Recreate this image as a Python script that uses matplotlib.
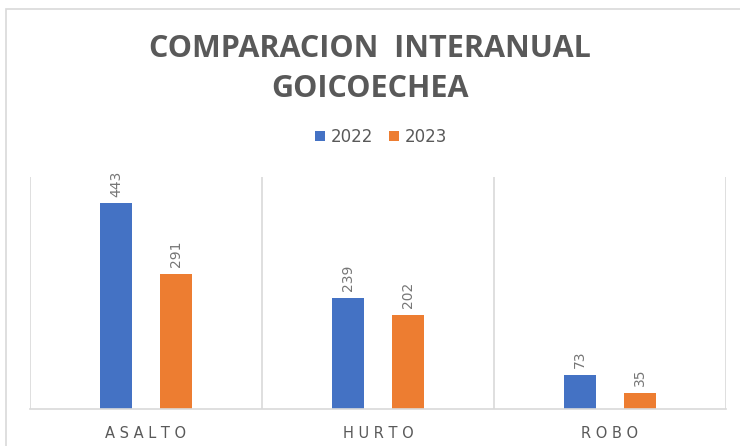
import numpy as np
import matplotlib.pyplot as plt
from matplotlib.patches import Rectangle

# datos por tipo de delito
categorias = ['ASALTO', 'HURTO', 'ROBO']
anios = ['2022', '2023']
valores_2022 = [443, 239, 73]
valores_2023 = [291, 202, 35]

azul = '#4472C4'
naranja = '#ED7D31'
gris = '#595959'
gris_linea = '#D9D9D9'

fig = plt.figure(figsize=(7.4, 4.46), dpi=100)

# marco del grafico
fig.patches.append(Rectangle((6 / 740, -0.1), 1.1, 1 - 9 / 446 + 0.1,
                             transform=fig.transFigure, fill=False,
                             edgecolor=gris_linea, linewidth=1.2))

ax = fig.add_axes([30 / 740, 1 - 409 / 446, 696 / 740, 232 / 446])

x = np.arange(len(categorias))
ancho = 0.138
desp = 0.13
b1 = ax.bar(x - desp, valores_2022, ancho, color=azul, label=anios[0])
b2 = ax.bar(x + desp, valores_2023, ancho, color=naranja, label=anios[1])

for barras in (b1, b2):
    for b in barras:
        ax.annotate(str(int(b.get_height())),
                    (b.get_x() + b.get_width() / 2, b.get_height()),
                    xytext=(0, 5), textcoords='offset points',
                    ha='center', va='bottom', rotation=90,
                    fontsize=10, color='#767676')

ax.set_xlim(-0.5, len(categorias) - 0.5)
ax.set_ylim(0, 500)
ax.set_yticks([])
ax.set_xticks(x)
ax.set_xticklabels([' '.join(c) for c in categorias], fontsize=10.5, color=gris)
ax.tick_params(axis='x', length=0, pad=12)
ax.set_xticks(np.arange(len(categorias) + 1) - 0.5, minor=True)
ax.tick_params(axis='x', which='minor', length=0)
ax.grid(True, which='minor', axis='x', color=gris_linea, linewidth=1.2)
ax.set_axisbelow(True)
for lado in ['top', 'right', 'left']:
    ax.spines[lado].set_visible(False)
ax.spines['bottom'].set_color(gris_linea)
ax.spines['bottom'].set_linewidth(1.2)

fig.text(0.5, 1 - 49 / 446, 'COMPARACION  INTERANUAL', ha='center', va='center',
         fontsize=22, fontweight='bold', color=gris, family='Open Sans')
fig.text(0.5, 1 - 89 / 446, 'GOICOECHEA', ha='center', va='center',
         fontsize=22, fontweight='bold', color=gris, family='Open Sans')

fig.legend(handles=[b1, b2], labels=anios, loc='center',
           bbox_to_anchor=(0.515, 1 - 137 / 446), ncol=2, frameon=False,
           fontsize=12, labelcolor=gris, handlelength=0.6, handleheight=0.6,
           handletextpad=0.3, columnspacing=1.0)

fig.savefig('out.png', dpi=100)
